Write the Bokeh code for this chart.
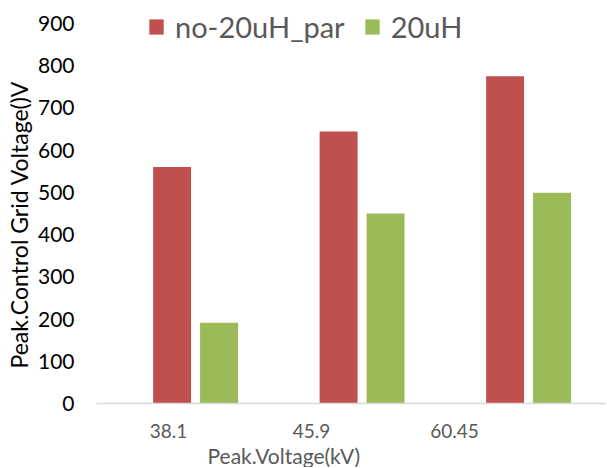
from bokeh.plotting import figure
from bokeh.models import (Range1d, LinearAxis, FixedTicker,
                          Legend, LegendItem, Title, ColumnDataSource)
from bokeh.transform import dodge
from bokeh.embed import file_html
from bokeh.resources import INLINE

categories = ["38.1", "45.9", "60.45"]
no_20uH_par = [560, 644, 775]
uH20 = [191, 450, 499]
y_ticks = [0, 100, 200, 300, 400, 500, 600, 700, 800, 900]

idx = list(range(len(categories)))
src = ColumnDataSource(dict(idx=idx, cat=categories, a=no_20uH_par, b=uH20))

FONT = "Lato"
RED = "#C0504D"
GREEN = "#9BBB59"

# frame extends above the 900 tick so the legend (which sits above it) is not clipped
p = figure(frame_width=510, frame_height=403, x_range=Range1d(-0.595, 2.468),
           y_range=Range1d(0, 900 * 403 / 380), output_backend="svg",
           toolbar_location=None, x_axis_location=None)
p.extra_x_ranges = {"labels": Range1d(-0.5035, 3.063)}

r1 = p.vbar(x=dodge("idx", -0.141, range=p.x_range), top="a", width=0.228,
            source=src, fill_color=RED, line_color=None)
r2 = p.vbar(x=dodge("idx", 0.141, range=p.x_range), top="b", width=0.228,
            source=src, fill_color=GREEN, line_color=None)

xaxis = LinearAxis(x_range_name="labels", ticker=FixedTicker(ticks=idx),
                   major_label_overrides={i: c for i, c in zip(idx, categories)})
xaxis.axis_line_color = "#D9D9D9"
xaxis.axis_line_width = 1.5
xaxis.major_tick_line_color = None
xaxis.minor_tick_line_color = None
xaxis.major_tick_out = 0
xaxis.major_label_text_font = FONT
xaxis.major_label_text_font_size = "19px"
xaxis.major_label_text_color = "#595959"
xaxis.major_label_standoff = 20
p.add_layout(xaxis, "below")

p.add_layout(Title(text="Peak.Voltage(kV)", align="left", offset=111,
                   text_font=FONT, text_font_size="21px", text_color="#595959",
                   text_font_style="normal", standoff=0), "below")

ya = p.yaxis[0]
ya.ticker = FixedTicker(ticks=y_ticks)
ya.axis_line_color = None
ya.major_tick_line_color = None
ya.minor_tick_line_color = None
ya.major_tick_out = 0
ya.major_label_text_font = FONT
ya.major_label_text_font_size = "21px"
ya.major_label_text_color = "#000000"
ya.major_label_standoff = 22

p.add_layout(Title(text="Peak.Control Grid Voltage()V", align="left", offset=35,
                   text_font=FONT, text_font_size="23px", text_color="#000000",
                   text_font_style="normal", standoff=4), "left")

p.xgrid.grid_line_color = None
p.ygrid.grid_line_color = None
p.outline_line_color = None
p.min_border_left = 89
p.min_border_right = 0
p.min_border_top = 0
p.min_border_bottom = 0

legend = Legend(items=[LegendItem(label="no-20uH_par", renderers=[r1]),
                       LegendItem(label="20uH", renderers=[r2])],
                orientation="horizontal", location=(51, 359),
                background_fill_alpha=0, border_line_color=None,
                label_text_font=FONT, label_text_font_size="29px",
                label_text_color="#595959",
                glyph_width=18, glyph_height=19, label_standoff=10,
                spacing=18, padding=0, margin=0)
p.add_layout(legend, "center")

open("out.html", "w").write(file_html(p, INLINE))
